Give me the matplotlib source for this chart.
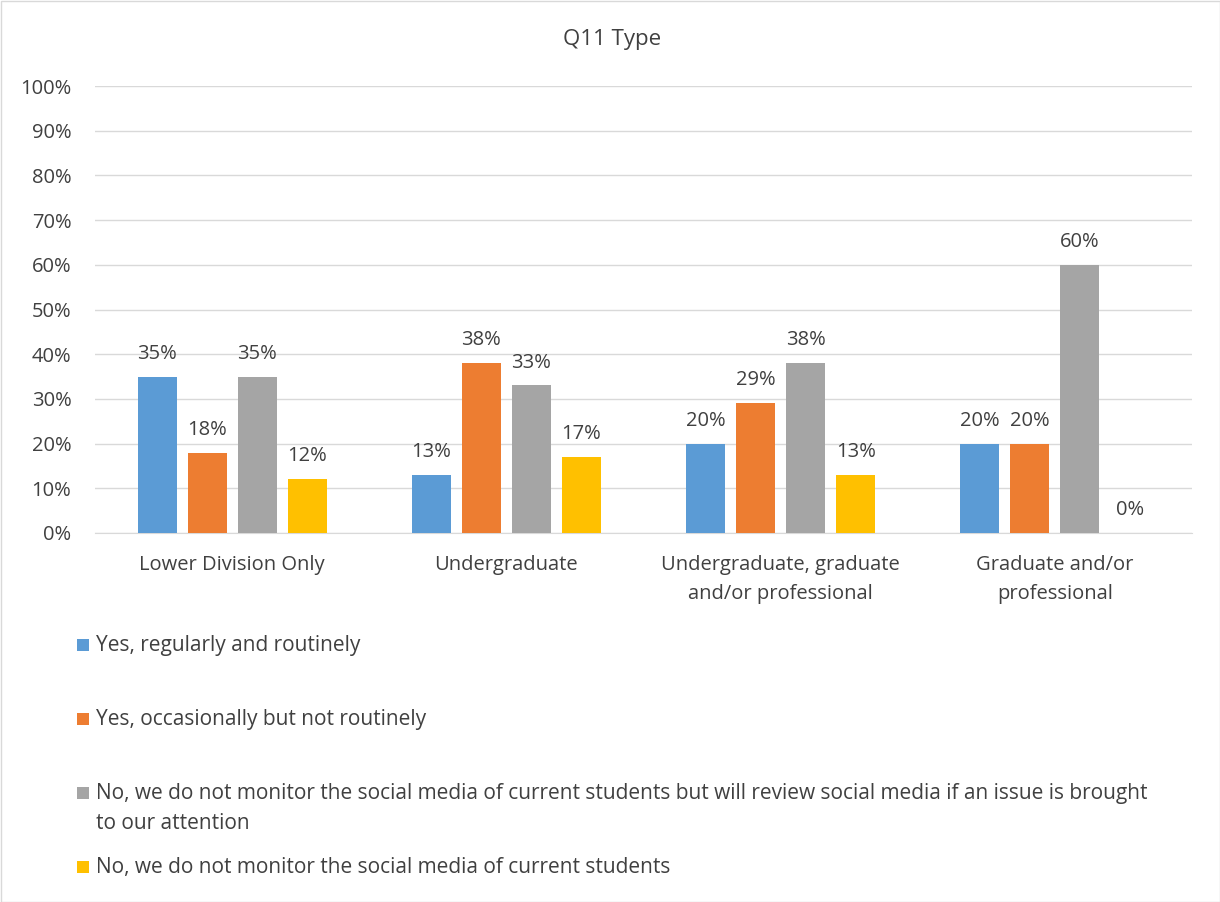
import matplotlib
matplotlib.use("Agg")
import matplotlib.pyplot as plt
from matplotlib.patches import Rectangle
import numpy as np

plt.rcParams['font.family'] = ['Open Sans', 'DejaVu Sans']

title = "Q11 Type"
categories = ["Lower Division Only", "Undergraduate",
              "Undergraduate, graduate\nand/or professional",
              "Graduate and/or\nprofessional"]
series_names = ["Yes, regularly and routinely",
                "Yes, occasionally but not routinely",
                "No, we do not monitor the social media of current students but will review social media if an issue is brought\nto our attention",
                "No, we do not monitor the social media of current students"]
values = [
    [35, 13, 20, 20],
    [18, 38, 29, 20],
    [35, 33, 38, 60],
    [12, 17, 13, 0],
]
colors = ["#5B9BD5", "#ED7D31", "#A5A5A5", "#FFC000"]
yticks = [0, 10, 20, 30, 40, 50, 60, 70, 80, 90, 100]

W, H = 1220, 902
fs = 14.5
fig = plt.figure(figsize=(W/100, H/100), dpi=100)
fig.patches.append(Rectangle((0.5/W, 0.5/H), 1-1/W, 1-1/H, transform=fig.transFigure,
                             fill=False, edgecolor="#D9D9D9", linewidth=1))
ax = fig.add_axes([95/W, 1-533/H, 1097/W, (533-86)/H])

x = np.arange(len(categories))
step = 50/274
width = 39/274
txtc = "#404040"
for i, (name, vals, c) in enumerate(zip(series_names, values, colors)):
    pos = x + (i - 1.5)*step
    ax.bar(pos, vals, width=width, color=c, label=name, zorder=3)
    for p, v in zip(pos, vals):
        ax.text(p, v + 2.9, f"{v}%", ha="center", va="bottom", fontsize=fs, color=txtc)

ax.set_xlim(-0.5, len(categories)-0.5)
ax.set_ylim(0, 100)
ax.set_yticks(yticks)
ax.set_yticklabels([f"{t}%" for t in yticks], fontsize=fs, color=txtc)
ax.set_xticks(x)
ax.set_xticklabels(categories, fontsize=fs, color=txtc, linespacing=1.6)
ax.tick_params(length=0)
ax.tick_params(axis='y', pad=17)
ax.tick_params(axis='x', pad=16)
ax.grid(axis='y', color="#D9D9D9", linewidth=1, zorder=0)
for s in ["top", "right", "left"]:
    ax.spines[s].set_visible(False)
ax.spines["bottom"].set_color("#D9D9D9")
fig.text(612/W, 1-40/H, title, ha="center", va="center", fontsize=16, color=txtc)

# legend (manual, vertical)
leg_y = [645, 719, 808.5, 867]
for yy, name, c in zip(leg_y, series_names, colors):
    nlines = name.count("\n") + 1
    top = yy - (nlines-1)*31/2
    fig.patches.append(Rectangle((77/W, 1-(top+6)/H), 12/W, 12/H, transform=fig.transFigure,
                                 facecolor=c, edgecolor="none"))
    fig.text(96/W, 1-yy/H, name, ha="left", va="center", fontsize=15, color=txtc,
             linespacing=1.6)

fig.savefig("out.png", dpi=100)
